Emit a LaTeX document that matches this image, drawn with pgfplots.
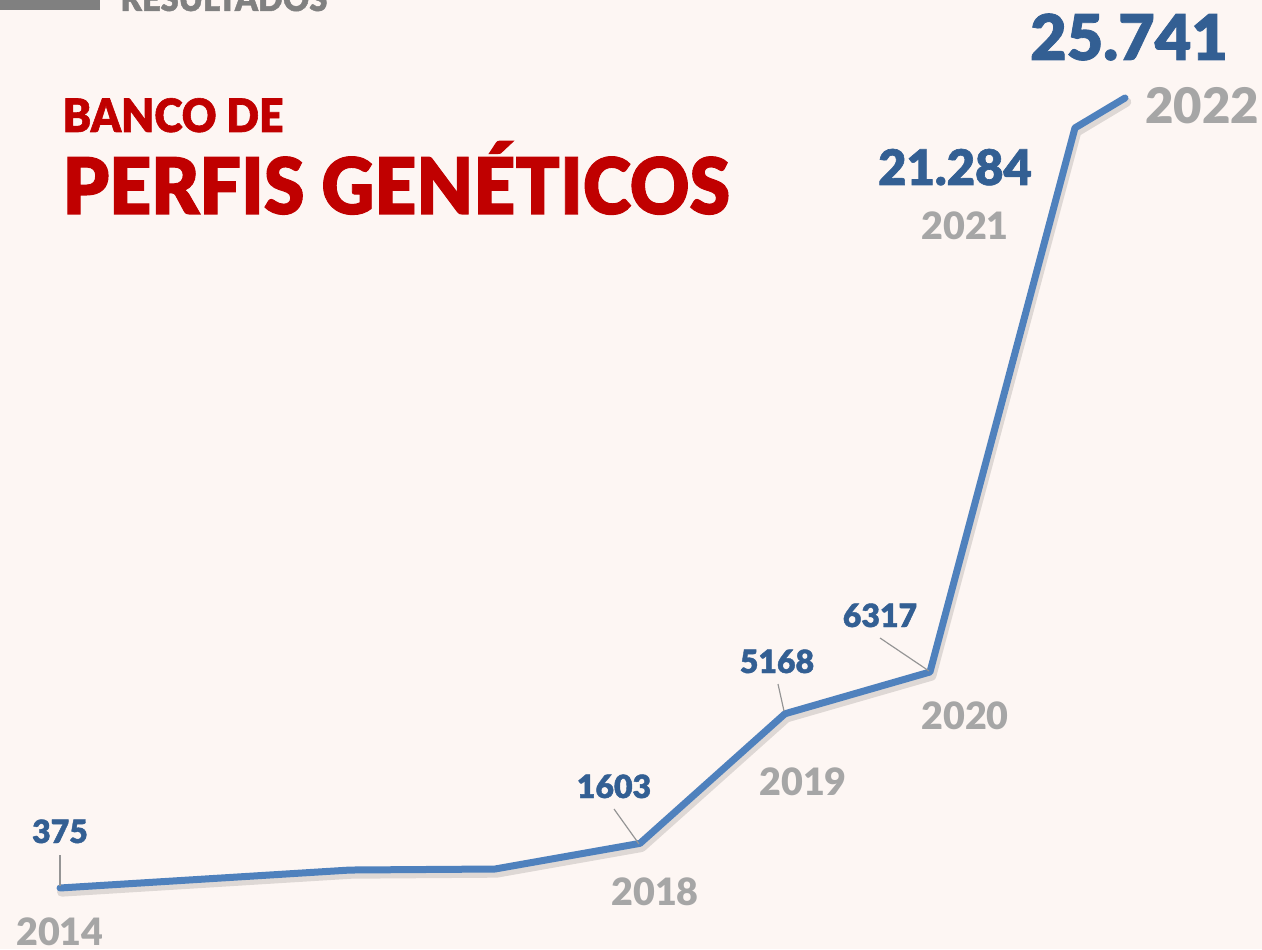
\documentclass[border=0pt]{standalone}
\usepackage{pgfplots}
\pgfplotsset{compat=1.18}
\usepackage{fontspec}
\setmainfont{Lato}
\newfontfamily\lblack{Lato Black}
\newfontfamily\lheavy{Lato Black}[FakeBold=1.3]
\definecolor{bg}{HTML}{FDF6F3}
\definecolor{numblue}{HTML}{335F93}
\definecolor{yeargray}{HTML}{A6A6A6}
\definecolor{titlered}{HTML}{C00000}
\definecolor{linecol}{HTML}{4F81BD}
\definecolor{topgray}{HTML}{808080}
\newcommand{\PX}[2]{(rel axis cs:{#1/1262},{1-#2/949})}
\begin{document}
\begin{tikzpicture}
\begin{axis}[
  scale only axis, width=378.6pt, height=284.7pt,
  xmin=2013.586, xmax=2022.290, ymin=-1304, ymax=24803,
  hide axis, clip=false]
\fill[bg] (rel axis cs:0,0) rectangle (rel axis cs:1,1);
% shadow
\addplot[black, opacity=0.12, line width=2.8pt, line cap=round, line join=round, xshift=0.5pt, yshift=-1.2pt] coordinates {
(2014,375) (2015,622) (2016,869) (2017,897) (2018,1603) (2019,5168) (2020,6317) (2021,21284) (2021.345,22107)};
\addplot[linecol, line width=2.1pt, line cap=round, line join=round] coordinates {
(2014,375) (2015,622) (2016,869) (2017,897) (2018,1603) (2019,5168) (2020,6317) (2021,21284) (2021.345,22107)};
% leader lines
\draw[yeargray!90!black, line width=0.35pt] \PX{60}{855} -- \PX{60}{886};
\draw[yeargray!90!black, line width=0.35pt] \PX{614}{809} -- \PX{639}{844};
\draw[yeargray!90!black, line width=0.35pt] \PX{778}{684} -- \PX{784}{711};
\draw[yeargray!90!black, line width=0.35pt] \PX{880}{638} -- \PX{929}{671};
% top band
\fill[topgray] \PX{0}{0} rectangle \PX{100}{10};
\node[anchor=base west, inner sep=0, text=topgray, font=\lheavy\fontsize{10.5}{10.5}\selectfont, xscale=0.93] at \PX{120}{11} {RESULTADOS};
% titles
\node[anchor=base west, inner sep=0, text=titlered, font=\lheavy\fontsize{13.8}{13.8}\selectfont, xscale=0.93] at \PX{62}{132} {BANCO DE};
\node[anchor=base west, inner sep=0, text=titlered, font=\lheavy\fontsize{23.4}{23.4}\selectfont, xscale=0.94] at \PX{62}{214} {PERFIS GENÉTICOS};
% value labels
\node[anchor=base, inner sep=0, text=numblue, font=\lheavy\fontsize{9.6}{9.6}\selectfont] at \PX{60}{843} {375};
\node[anchor=base, inner sep=0, text=numblue, font=\lheavy\fontsize{9.6}{9.6}\selectfont] at \PX{614}{798} {1603};
\node[anchor=base, inner sep=0, text=numblue, font=\lheavy\fontsize{9.6}{9.6}\selectfont] at \PX{777}{673} {5168};
\node[anchor=base, inner sep=0, text=numblue, font=\lheavy\fontsize{9.6}{9.6}\selectfont] at \PX{880}{627} {6317};
\node[anchor=base, inner sep=0, text=numblue, font=\lheavy\fontsize{14.7}{14.7}\selectfont] at \PX{955}{185} {21.284};
\node[anchor=base, inner sep=0, text=numblue, font=\lheavy\fontsize{18.9}{18.9}\selectfont] at \PX{1129}{60} {25.741};
% year labels
\node[anchor=base, inner sep=0, text=yeargray, font=\lblack\fontsize{11.3}{11.3}\selectfont] at \PX{60}{945} {2014};
\node[anchor=base, inner sep=0, text=yeargray, font=\lblack\fontsize{11.3}{11.3}\selectfont] at \PX{655}{905} {2018};
\node[anchor=base, inner sep=0, text=yeargray, font=\lblack\fontsize{11.3}{11.3}\selectfont] at \PX{803}{795} {2019};
\node[anchor=base, inner sep=0, text=yeargray, font=\lblack\fontsize{11.3}{11.3}\selectfont] at \PX{965}{729} {2020};
\node[anchor=base, inner sep=0, text=yeargray, font=\lblack\fontsize{11.3}{11.3}\selectfont] at \PX{965}{240} {2021};
\node[anchor=base, inner sep=0, text=yeargray, font=\lblack\fontsize{14.7}{14.7}\selectfont] at \PX{1202}{124} {2022};
\end{axis}
\pgfresetboundingbox
\path[use as bounding box] (current axis.south west) rectangle (current axis.north east);
\end{tikzpicture}
\end{document}
